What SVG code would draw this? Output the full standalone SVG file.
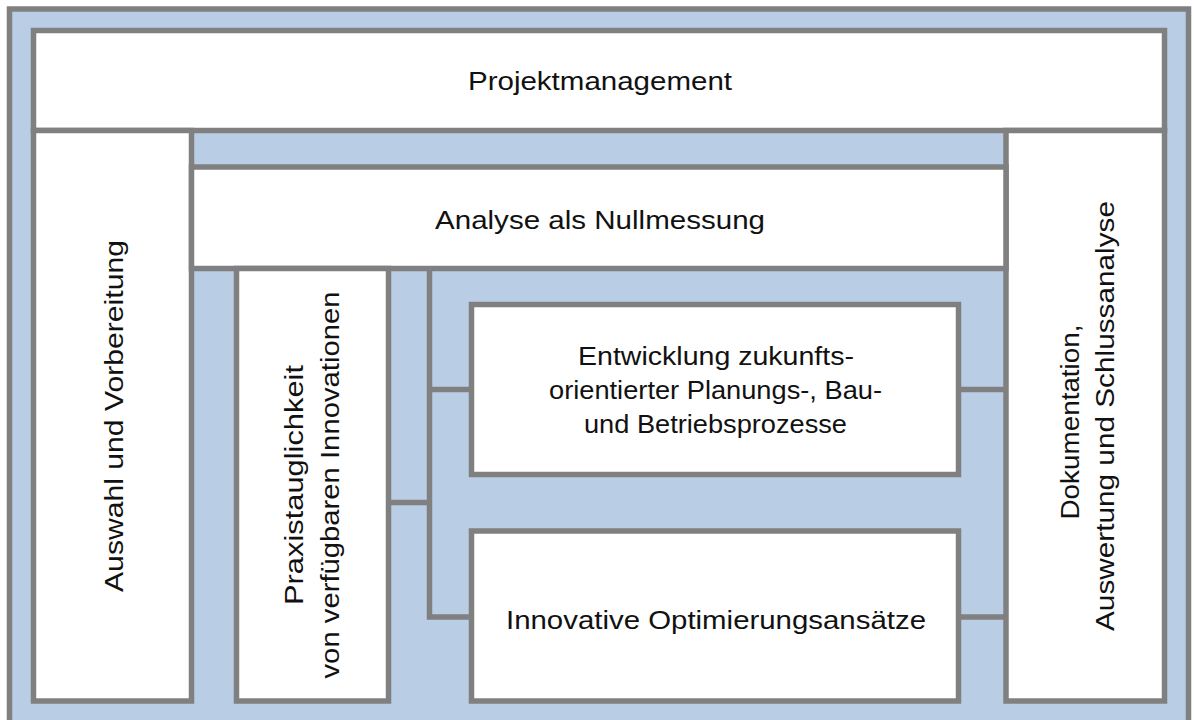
<svg xmlns="http://www.w3.org/2000/svg" width="1194" height="720" viewBox="0 0 1194 720">
  <style>
    .frame { fill: #b9cde5; stroke: #808080; stroke-width: 5.5; }
    .box { fill: #ffffff; stroke: #808080; stroke-width: 5.5; }
    .link { fill: none; stroke: #808080; stroke-width: 5.5; stroke-linecap: square; }
    .label { font-family: "Liberation Sans", Arial, sans-serif; font-size: 26.5px; fill: #111111; text-anchor: middle; }
  </style>

  <!-- background frame -->
  <rect class="frame" x="9.5" y="9" width="1179" height="730"/>

  <!-- connectors -->
  <g id="connectors">
    <path class="link" d="M429.5 271 V617 H469"/>
    <path class="link" d="M432 389.5 H469"/>
    <path class="link" d="M391 502.5 H427"/>
    <path class="link" d="M961 389.5 H1003"/>
    <path class="link" d="M961 617 H1003"/>
  </g>

  <g id="projektmanagement">
    <rect class="box" x="33.5" y="30.5" width="1131" height="100"/>
    <text class="label" x="600" y="90" textLength="264" lengthAdjust="spacingAndGlyphs">Projektmanagement</text>
  </g>

  <g id="auswahl">
    <rect class="box" x="33.5" y="130.5" width="158" height="570.5"/>
    <g transform="translate(112.5,416) rotate(-90)">
      <text class="label" x="0" y="10" textLength="352" lengthAdjust="spacingAndGlyphs">Auswahl und Vorbereitung</text>
    </g>
  </g>

  <g id="dokumentation">
    <rect class="box" x="1006" y="130.5" width="158.5" height="570.5"/>
    <g transform="translate(1085,416) rotate(-90)">
      <text class="label" x="-6" y="-6.5" textLength="195" lengthAdjust="spacingAndGlyphs">Dokumentation,</text>
      <text class="label" x="0" y="28.5" textLength="430" lengthAdjust="spacingAndGlyphs">Auswertung und Schlussanalyse</text>
    </g>
  </g>

  <g id="analyse">
    <rect class="box" x="191.5" y="167" width="814.5" height="101.5"/>
    <text class="label" x="600" y="229" textLength="330" lengthAdjust="spacingAndGlyphs">Analyse als Nullmessung</text>
  </g>

  <g id="praxis">
    <rect class="box" x="236.5" y="268.5" width="152" height="432.5"/>
    <g transform="translate(312.5,485) rotate(-90)">
      <text class="label" x="0" y="-10" textLength="240" lengthAdjust="spacingAndGlyphs">Praxistauglichkeit</text>
      <text class="label" x="0" y="26" textLength="387" lengthAdjust="spacingAndGlyphs">von verfügbaren Innovationen</text>
    </g>
  </g>

  <g id="entwicklung">
    <rect class="box" x="471.5" y="304.5" width="487" height="170"/>
    <text class="label" x="716" y="364.5" textLength="276" lengthAdjust="spacingAndGlyphs">Entwicklung zukunfts-</text>
    <text class="label" x="715.5" y="398.5" textLength="333" lengthAdjust="spacingAndGlyphs">orientierter Planungs-, Bau-</text>
    <text class="label" x="715.5" y="432.5" textLength="263" lengthAdjust="spacingAndGlyphs">und Betriebsprozesse</text>
  </g>

  <g id="innovative">
    <rect class="box" x="471.5" y="531" width="487" height="170"/>
    <text class="label" x="716" y="628.5" textLength="420" lengthAdjust="spacingAndGlyphs">Innovative Optimierungsansätze</text>
  </g>
</svg>
